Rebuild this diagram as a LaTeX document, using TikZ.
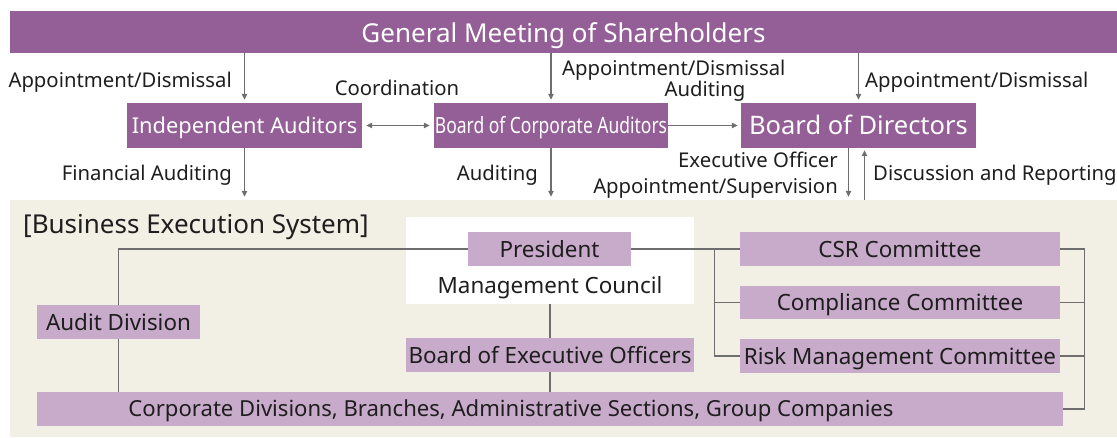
\documentclass[tikz,border=0pt]{standalone}
\usepackage{fontspec}
\setmainfont{Noto Sans}
\newfontfamily\condfont{Noto Sans}[FakeStretch=0.78]
\usetikzlibrary{arrows.meta,calc}
\definecolor{dpurple}{HTML}{945E96}
\definecolor{lpurple}{HTML}{C8AACA}
\definecolor{beige}{HTML}{F2EFE4}
\definecolor{agrey}{HTML}{6E6E6E}
\definecolor{txt}{HTML}{1E1E1E}
\newcommand{\myfs}[1]{\fontsize{#1}{#1}\selectfont}
\tikzset{
  fs/.style 2 args={font=\myfs{#1}, text height=#2pt, text depth=0pt},
  dbox/.style={fill=dpurple, text=white, inner sep=0pt},
  lbox/.style={fill=lpurple, text=txt, inner sep=0pt, fs={22.4}{16}},
  lbl/.style={text=txt, inner sep=0pt, fs={20.3}{14.5}},
  arr/.style={draw=agrey, line width=1.3pt, -{Triangle[length=6pt,width=5.5pt]}},
  arrb/.style={draw=agrey, line width=1.3pt, {Triangle[length=6pt,width=5.5pt]}-{Triangle[length=6pt,width=5.5pt]}},
  ln/.style={draw=agrey, line width=1.3pt},
}
\begin{document}
\begin{tikzpicture}[x=1pt,y=-1pt]
\useasboundingbox (0,0) rectangle (1117,437);
% background of business execution system
\node[fill=beige, inner sep=0pt, minimum width=1107pt, minimum height=237pt] (bes) at (563.5,318.5) {};
% top level
\node[dbox, fs={26}{21.5}, minimum width=1107pt, minimum height=42pt] (gm) at (563.5,32) {General Meeting of Shareholders};
\node[dbox, fs={21.8}{15.6}, minimum width=235pt, minimum height=45pt] (ia) at (244.5,125.5) {Independent Auditors};
\node[dbox, fs={22.4}{16}, minimum width=234pt, minimum height=45pt] (bca) at (551,125.5) {\condfont Board of Corporate Auditors};
\node[dbox, fs={25.5}{18.2}, minimum width=235pt, minimum height=45pt] (bod) at (858.5,125.5) {Board of Directors};
% labels top
\node[lbl, anchor=east] (l1) at (232,80) {Appointment/Dismissal};
\node[lbl] (l2) at (397,88) {Coordination};
\node[lbl, anchor=west] (l3) at (562,68) {Appointment/Dismissal};
\node[lbl] (l4) at (705,89.5) {Auditing};
\node[lbl, anchor=west] (l5) at (865,80) {Appointment/Dismissal};
\node[lbl, anchor=east] (l6) at (232,173) {Financial Auditing};
\node[lbl, anchor=east] (l7) at (538,173) {Auditing};
\node[lbl, anchor=east] (l8) at (838,160) {Executive Officer};
\node[lbl, anchor=east] (l9) at (838,186) {Appointment/Supervision};
\node[lbl, anchor=west] (l10) at (873,173) {Discussion and Reporting};
% top arrows
\draw[arr, shorten >=3pt] (ia.north |- gm.south) -- (ia.north);
\draw[arr, shorten >=3pt] (bca.north |- gm.south) -- (bca.north);
\draw[arr, shorten >=3pt] (bod.north |- gm.south) -- (bod.north);
\draw[arrb, shorten >=4pt, shorten <=4pt] (ia.east) -- (bca.west);
\draw[arr, shorten >=3pt] (bca.east) -- (bod.west);
\draw[arr, shorten >=3pt] (ia.south) -- (ia.south |- bes.north);
\draw[arr, shorten >=3pt] (bca.south) -- (bca.south |- bes.north);
\coordinate (bd1) at ([xshift=-10pt]bod.south);
\coordinate (bd2) at ([xshift=6pt]bod.south);
\draw[arr, shorten >=3pt] (bd1) -- (bd1 |- bes.north);
\draw[arr, shorten >=2pt] (bd2 |- bes.north) -- (bd2);
% business execution system
\node[text=txt, inner sep=0pt, fs={26}{18.6}, anchor=west] (best) at (23,224) {[Business Execution System]};
\node[fill=white, inner sep=0pt, minimum width=288pt, minimum height=87pt] (mc) at (550,260.5) {};
\node[lbox, minimum width=163pt, minimum height=34pt] (pres) at (549.5,249) {President};
\node[text=txt, inner sep=0pt, fs={22.4}{16}] (mct) at (550,285) {Management Council};
\node[lbox, minimum width=163pt, minimum height=34pt] (audit) at (118.5,322) {Audit Division};
\node[lbox, minimum width=288pt, minimum height=34pt] (beo) at (550,355) {Board of Executive Officers};
\node[lbox, fs={22.1}{15.8}, minimum width=1026pt, minimum height=34pt] (corp) at (550,409) {\hspace*{-78pt}Corporate Divisions, Branches, Administrative Sections, Group Companies};
\node[lbox, minimum width=320pt, minimum height=34pt] (csr) at (900,249) {CSR Committee};
\node[lbox, minimum width=320pt, minimum height=33pt] (comp) at (900,302.5) {Compliance Committee};
\node[lbox, minimum width=320pt, minimum height=34pt] (risk) at (900,356) {Risk Management Committee};
% connectors
\draw[ln] (pres.west) -| (audit.north);
\draw[ln] (audit.south) -- (audit.south |- corp.north);
\draw[ln] (mc.south) -- (beo.north);
\draw[ln] (beo.south) -- (corp.north);
\draw[ln] (pres.east) -- (csr.west);
\coordinate (lb) at ($(csr.west)+(-25,0)$);
\draw[ln] (lb) |- (risk.west);
\draw[ln] (comp.west) -- (comp.west -| lb);
\coordinate (rb) at ($(csr.east)+(24,0)$);
\draw[ln] (csr.east) -- (rb) |- (corp.east);
\draw[ln] (comp.east) -- (comp.east -| rb);
\draw[ln] (risk.east) -- (risk.east -| rb);
\end{tikzpicture}
\end{document}
